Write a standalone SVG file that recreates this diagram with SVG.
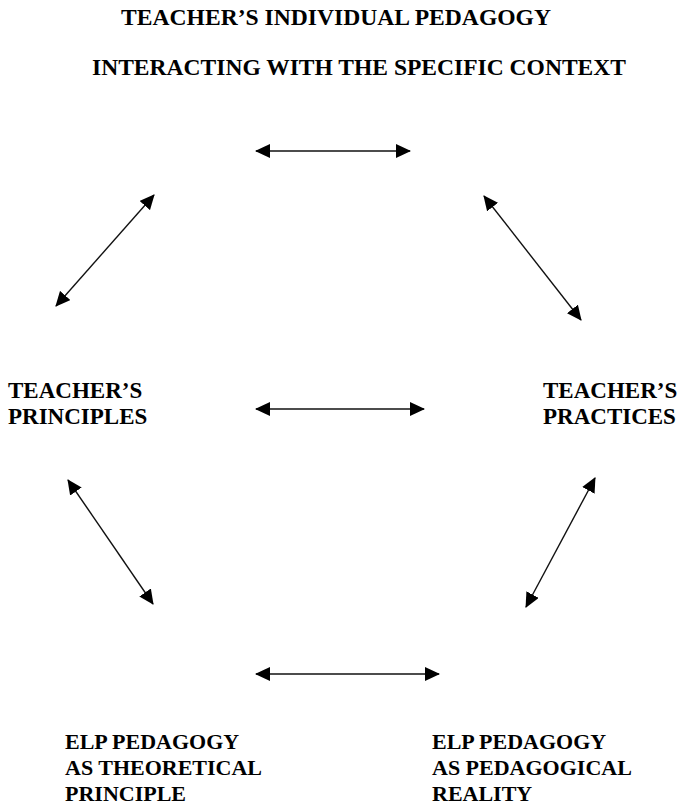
<svg xmlns="http://www.w3.org/2000/svg" width="683" height="807" viewBox="0 0 683 807" font-family="'Liberation Serif', 'Times New Roman', Times, 'DejaVu Serif', serif">
<style>
text{font-family:'Liberation Serif','Times New Roman',Times,'DejaVu Serif',serif;font-weight:700;fill:#000}
.t{font-size:23.5px}
.m{font-size:23px}
.b{font-size:22px}
.c line{stroke:#111;stroke-width:1.4;fill:none;marker-start:url(#ah);marker-end:url(#ah)}
</style>
<defs>
<marker id="ah" viewBox="0 0 15 14" refX="14" refY="7" markerWidth="15" markerHeight="14" markerUnits="userSpaceOnUse" orient="auto-start-reverse">
<path d="M0,0 L15,7 L0,14 z" fill="#000"/>
</marker>
</defs>
<rect width="683" height="807" fill="#fff"/>
<g id="title" class="t">
<text class="t" x="121" y="25" textLength="430" lengthAdjust="spacingAndGlyphs">TEACHER’S INDIVIDUAL PEDAGOGY</text>
<text class="t" x="92" y="75" textLength="534" lengthAdjust="spacingAndGlyphs">INTERACTING WITH THE SPECIFIC CONTEXT</text>
</g>
<g id="principles">
<text class="m" x="8" y="398">TEACHER’S</text>
<text class="m" x="8" y="424">PRINCIPLES</text>
</g>
<g id="practices">
<text class="m" x="543" y="398">TEACHER’S</text>
<text class="m" x="543" y="424">PRACTICES</text>
</g>
<g id="theory">
<text class="b" x="65" y="749">ELP PEDAGOGY</text>
<text class="b" x="65" y="775">AS THEORETICAL</text>
<text class="b" x="65" y="801">PRINCIPLE</text>
</g>
<g id="reality">
<text class="b" x="432" y="749">ELP PEDAGOGY</text>
<text class="b" x="432" y="775">AS PEDAGOGICAL</text>
<text class="b" x="432" y="801">REALITY</text>
</g>
<g class="c" id="connectors">
<line x1="256" y1="151" x2="410" y2="151"/>
<line x1="56" y1="306" x2="154" y2="195"/>
<line x1="484" y1="196" x2="581" y2="320"/>
<line x1="256" y1="409" x2="424" y2="409"/>
<line x1="68" y1="480" x2="153" y2="604"/>
<line x1="595" y1="478" x2="526" y2="607"/>
<line x1="256" y1="674" x2="439" y2="674"/>
</g>
</svg>
